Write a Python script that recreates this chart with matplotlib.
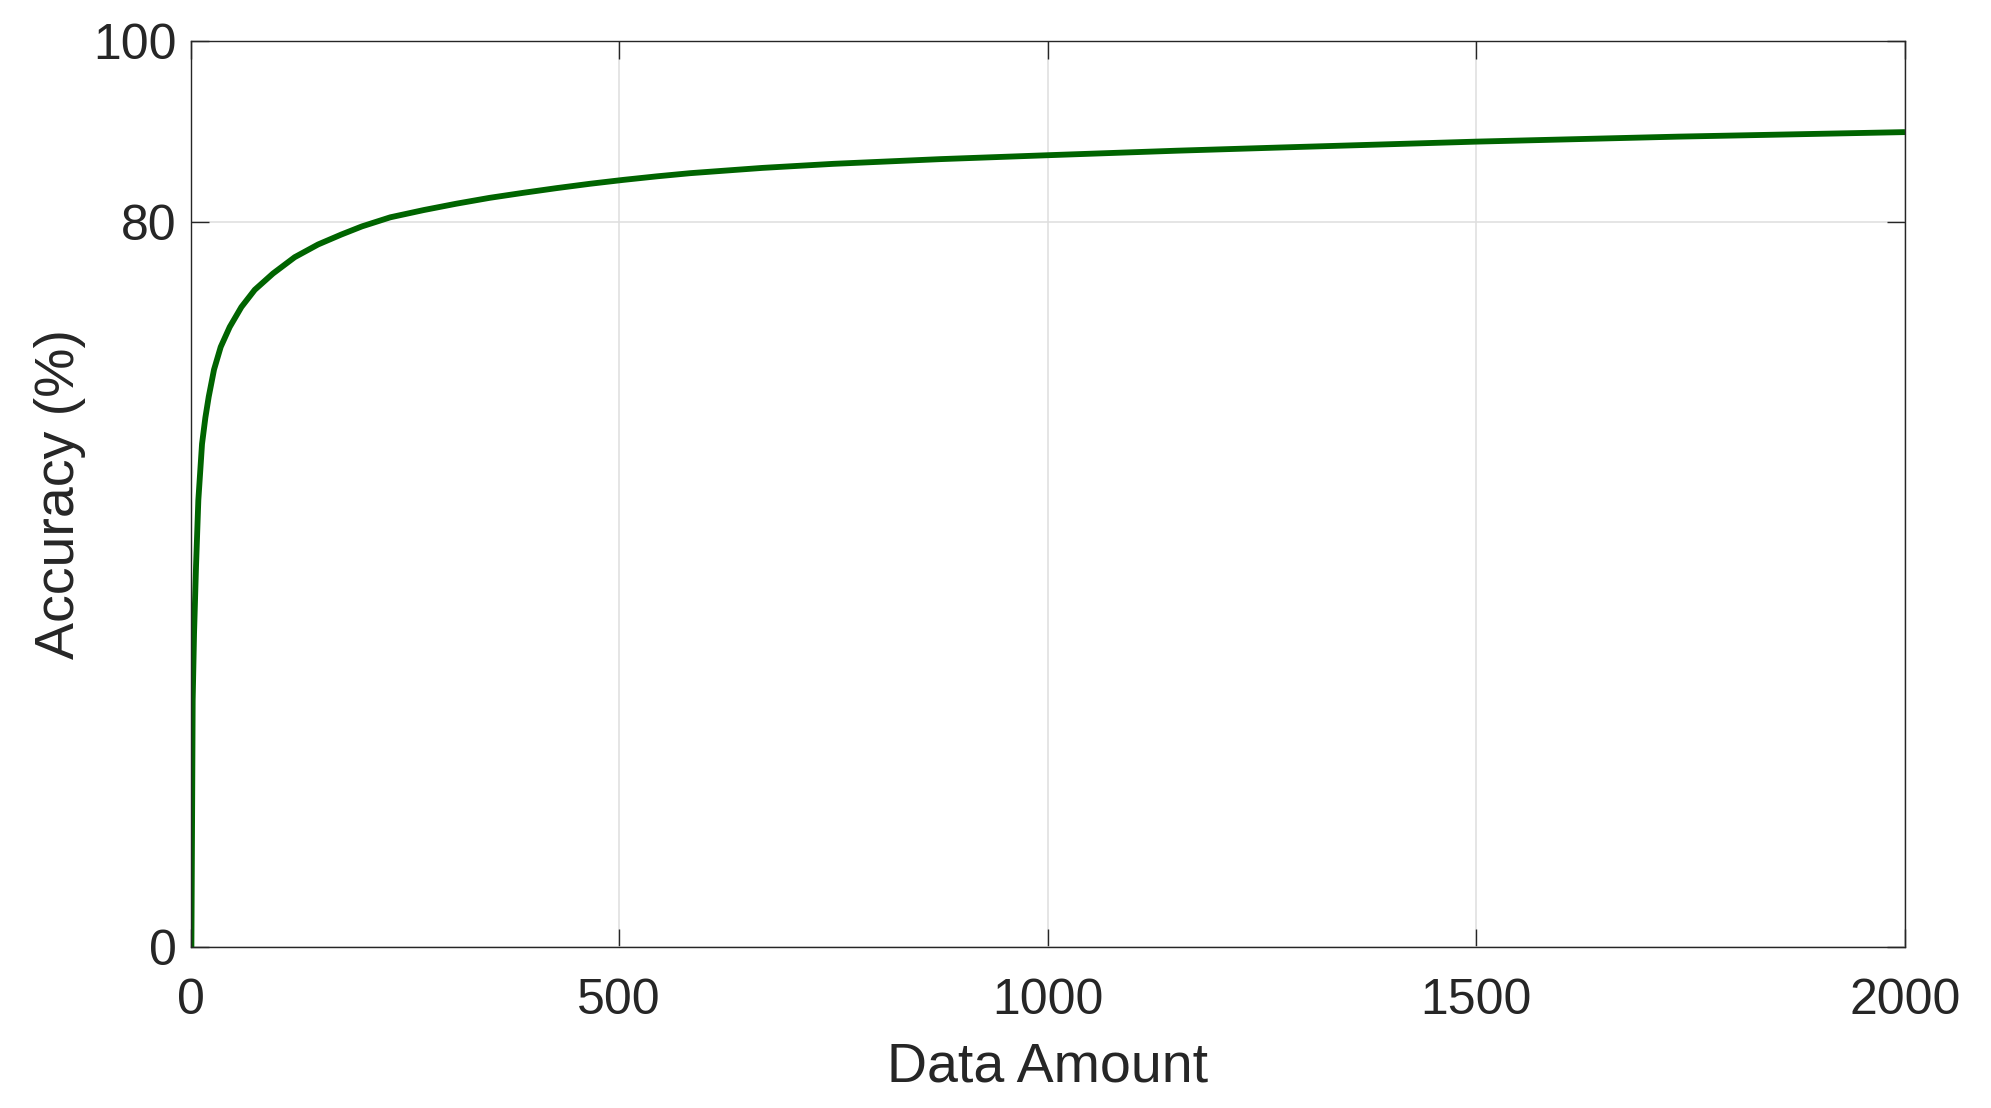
import matplotlib
matplotlib.use("Agg")
import matplotlib.pyplot as plt

# values
data_amount = [1, 1.8, 2.5, 4.1, 6.4, 9.1, 13.4, 17.3, 21.2, 27.4, 35.2, 45.7,
               59.3, 74.9, 96.2, 121.5, 148.7, 175.9, 200, 233, 272, 310, 349,
               388, 427, 466, 505, 544, 583, 667, 750, 875, 1000, 1151, 1271,
               1500, 1735, 2000]
accuracy = [0, 14.0, 27.2, 34.6, 42.0, 49.3, 55.5, 58.4, 60.7, 63.7, 66.2, 68.4,
            70.6, 72.5, 74.3, 76.1, 77.5, 78.6, 79.5, 80.5, 81.3, 82.0, 82.65,
            83.2, 83.72, 84.2, 84.63, 85.02, 85.37, 85.95, 86.4, 86.92, 87.35,
            87.85, 88.2, 88.85, 89.4, 89.9]

x_ticks = [0, 500, 1000, 1500, 2000]
y_ticks = [0, 80, 100]

text_color = "#262626"
plt.rcParams["font.family"] = ["Liberation Sans", "DejaVu Sans"]

fig = plt.figure(figsize=(19.91, 11.08), dpi=100)
ax = fig.add_axes([0.0957, 0.1453, 0.8611, 0.8181])

ax.plot(data_amount, accuracy, color="#006400", linewidth=4.2,
        solid_joinstyle="round", solid_capstyle="butt")

ax.set_xlim(0, 2000)
ax.set_ylim(0, 100)
ax.set_xticks(x_ticks)
ax.set_yticks(y_ticks)
ax.grid(True, color="#dedede", linewidth=1.1)
ax.set_axisbelow(True)

ax.tick_params(direction="in", length=13, width=1.0, top=True, right=True,
               colors=text_color, labelsize=36)
ax.tick_params(axis="x", pad=22)
ax.tick_params(axis="y", pad=10)
for spine in ax.spines.values():
    spine.set_color(text_color)
    spine.set_linewidth(1.0)

ax.set_xlabel("Data Amount", fontsize=40, color=text_color)
ax.set_ylabel("Accuracy (%)", fontsize=40, color=text_color)
ax.xaxis.set_label_coords(0.5, -0.104)
ax.yaxis.set_label_coords(-0.061, 0.5)

fig.savefig("out.png", dpi=100)
